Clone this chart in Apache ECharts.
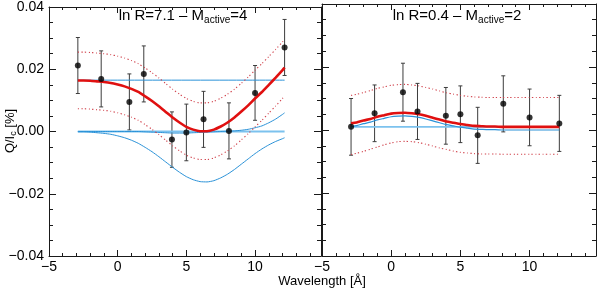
<!DOCTYPE html>
<html><head><meta charset="utf-8">
<script src="https://cdn.jsdelivr.net/npm/echarts@6/dist/echarts.min.js"></script>
<style>html,body{margin:0;padding:0;background:#fff}#c{width:600px;height:293px}</style>
</head><body><div id="c"></div>
<script>
// ---- tick labels ----
const xTickValues = [-5, 0, 5, 10];
const xTickLabels = ['\u22125', '0', '5', '10'];
const yTickValues = [-0.04, -0.02, 0, 0.02, 0.04];
const yTickLabels = ['\u22120.04', '\u22120.02', '0.00', '0.02', '0.04'];

// ---- observed points (both panels share wavelengths) ----
const obsX = [-2.9, -1.2, 0.85, 1.9, 3.95, 5.0, 6.25, 8.1, 10.0, 12.15];
const leftObsY = [0.0212, 0.0169, 0.0095, 0.0185, -0.0026, -0.0003, 0.0039, 0.0002, 0.0124, 0.0270];
const leftObsErr = [0.009, 0.009, 0.009, 0.009, 0.0089, 0.0091, 0.009, 0.009, 0.0088, 0.009];
const rightObsY = [0.0010, 0.0053, 0.0120, 0.0059, 0.0045, 0.0050, -0.0017, 0.0083, 0.0040, 0.0021];
const rightObsErr = [0.009, 0.009, 0.0092, 0.0089, 0.009, 0.009, 0.0089, 0.0089, 0.009, 0.0089];

// ---- model curves sampled at these wavelengths ----
const modelX = [-2.9, -2.5, -2, -1.5, -1, -0.5, 0, 0.5, 1, 1.5, 2, 2.5, 3, 3.5, 4, 4.5, 5, 5.5, 6, 6.5, 7, 7.5, 8, 8.5, 9, 9.5, 10, 10.5, 11, 11.5, 12, 12.15];

// left panel (ln R = 7.1)
const leftConstLevel = 0.0165;
const leftZeroLevel = 0;
const leftDip = [-0.0001, -0.0001, -0.0002, -0.0004, -0.0006, -0.0009, -0.0014, -0.0020, -0.0028, -0.0038, -0.0051, -0.0065, -0.0081, -0.0098, -0.0115, -0.0131, -0.0145, -0.0155, -0.0161, -0.0162, -0.0158, -0.0149, -0.0137, -0.0122, -0.0105, -0.0088, -0.0071, -0.0056, -0.0043, -0.0032, -0.0023, -0.0020];
const leftRise = [0, 0, 0, 0, 0, 0, 0, 0, 0, 0, -0.0001, -0.0002, -0.0003, -0.0004, -0.0005, -0.0005, -0.0005, -0.0004, -0.0003, -0.0002, -0.0001, 0, 0.0001, 0.0002, 0.0004, 0.0007, 0.0012, 0.0018, 0.0028, 0.0040, 0.0055, 0.0060];
const leftFit = [0.0164, 0.0164, 0.0163, 0.0161, 0.0159, 0.0156, 0.0151, 0.0145, 0.0137, 0.0127, 0.0113, 0.0098, 0.0081, 0.0063, 0.0045, 0.0029, 0.0015, 0.0006, 0.0001, 0.0001, 0.0006, 0.0016, 0.0029, 0.0045, 0.0064, 0.0084, 0.0106, 0.0127, 0.0150, 0.0173, 0.0197, 0.0205];
const leftUpper = [0.0255, 0.0255, 0.0254, 0.0252, 0.0250, 0.0247, 0.0242, 0.0236, 0.0228, 0.0218, 0.0204, 0.0189, 0.0172, 0.0154, 0.0136, 0.0120, 0.0106, 0.0097, 0.0092, 0.0092, 0.0097, 0.0107, 0.0120, 0.0136, 0.0155, 0.0175, 0.0197, 0.0218, 0.0241, 0.0264, 0.0288, 0.0296];
const leftLower = [0.0073, 0.0073, 0.0072, 0.0070, 0.0068, 0.0065, 0.0060, 0.0054, 0.0046, 0.0036, 0.0022, 0.0007, -0.0010, -0.0028, -0.0046, -0.0062, -0.0076, -0.0085, -0.0090, -0.0090, -0.0085, -0.0075, -0.0062, -0.0046, -0.0027, -0.0007, 0.0015, 0.0036, 0.0059, 0.0082, 0.0106, 0.0114];

// right panel (ln R = 0.4)
const rightConstLevel = 0.001;
const rightBump = [0.0011, 0.0014, 0.0020, 0.0025, 0.0032, 0.0037, 0.0042, 0.0044, 0.0045, 0.0043, 0.0040, 0.0035, 0.0029, 0.0023, 0.0017, 0.0013, 0.0009, 0.0006, 0.0003, 0.0002, 0.0001, 0.0001, 0, 0, 0, 0, 0, 0, 0, 0, 0, 0];
const rightFit = [0.0021, 0.0024, 0.0030, 0.0035, 0.0042, 0.0047, 0.0052, 0.0054, 0.0055, 0.0053, 0.0050, 0.0045, 0.0039, 0.0033, 0.0027, 0.0023, 0.0019, 0.0016, 0.0013, 0.0012, 0.0011, 0.0011, 0.0010, 0.0010, 0.0010, 0.0010, 0.0010, 0.0010, 0.0010, 0.0010, 0.0010, 0.0010];
const rightUpper = [0.0110, 0.0113, 0.0119, 0.0125, 0.0132, 0.0137, 0.0142, 0.0144, 0.0145, 0.0143, 0.0140, 0.0135, 0.0130, 0.0124, 0.0118, 0.0114, 0.0110, 0.0107, 0.0105, 0.0104, 0.0103, 0.0103, 0.0103, 0.0103, 0.0103, 0.0103, 0.0103, 0.0103, 0.0103, 0.0103, 0.0103, 0.0103];
const rightLower = [-0.0078, -0.0074, -0.0068, -0.0061, -0.0054, -0.0047, -0.0041, -0.0037, -0.0036, -0.0037, -0.0040, -0.0045, -0.0051, -0.0057, -0.0062, -0.0067, -0.0071, -0.0073, -0.0075, -0.0076, -0.0076, -0.0076, -0.0077, -0.0077, -0.0077, -0.0077, -0.0077, -0.0077, -0.0077, -0.0077, -0.0077, -0.0077];

// ---- styling ----
const FONT = 'Liberation Sans';
const AX = '#1a1a1a';
const RED = '#e01010';
const DOT = '#d0404a';
const BLUE = '#2a92d8';
const LBLUE = '#7cc2ee';
const XMIN = -5, XMAX = 14.8, YMIN = -0.04, YMAX = 0.04;

function fmtX(v) { const i = xTickValues.findIndex(t => Math.abs(t - v) < 1e-9); return i >= 0 ? xTickLabels[i] : ''; }
function fmtY(v) { const i = yTickValues.findIndex(t => Math.abs(t - v) < 1e-9); return i >= 0 ? yTickLabels[i] : ''; }

function xAxis(grid, pos, labels) {
  return {
    type: 'value', gridIndex: grid, position: pos, min: XMIN, max: XMAX, interval: 5,
    axisLine: { show: true, onZero: false, lineStyle: { color: AX, width: 1 } },
    axisTick: { show: true, inside: true, length: 6, lineStyle: { color: AX } },
    minorTick: { show: true, splitNumber: 5, length: 3, lineStyle: { color: AX } },
    splitLine: { show: false },
    axisLabel: { show: labels, formatter: fmtX, margin: 4, color: '#000', fontFamily: FONT, fontSize: 14, showMaxLabel: false }
  };
}
function yAxis(grid, pos, labels) {
  return {
    type: 'value', gridIndex: grid, position: pos, min: YMIN, max: YMAX, interval: 0.02,
    axisLine: { show: true, onZero: false, lineStyle: { color: AX, width: 1 } },
    axisTick: { show: true, inside: true, length: 7, lineStyle: { color: AX } },
    minorTick: { show: true, splitNumber: 4, length: 4, lineStyle: { color: AX } },
    splitLine: { show: false },
    axisLabel: { show: labels, formatter: fmtY, margin: 5, color: '#000', fontFamily: FONT, fontSize: 14 }
  };
}

function pairs(arr) { return modelX.map((x, i) => [x, arr[i]]); }
function level(v) { return [[modelX[0], v], [modelX[modelX.length - 1], v]]; }
function line(xi, yi, data, color, width, type, z) {
  return { type: 'line', xAxisIndex: xi, yAxisIndex: yi, data: data, showSymbol: false, symbol: 'none', smooth: 0.2,
    lineStyle: { color: color, width: width, type: type || 'solid' }, z: z || 2, silent: true };
}
function errBars(xi, yi, ys, errs) {
  return {
    type: 'custom', xAxisIndex: xi, yAxisIndex: yi, z: 1, silent: true,
    data: obsX.map((x, i) => [x, ys[i], errs[i]]),
    encode: { x: 0, y: 1 },
    renderItem: function (params, api) {
      const x = api.value(0), y = api.value(1), e = api.value(2);
      const t = api.coord([x, y + e]), b = api.coord([x, y - e]);
      const c = 2;
      const st = { stroke: '#3c3c3c', lineWidth: 1 };
      return { type: 'group', children: [
        { type: 'line', shape: { x1: t[0], y1: t[1], x2: b[0], y2: b[1] }, style: st },
        { type: 'line', shape: { x1: t[0] - c, y1: t[1], x2: t[0] + c, y2: t[1] }, style: st },
        { type: 'line', shape: { x1: b[0] - c, y1: b[1], x2: b[0] + c, y2: b[1] }, style: st }
      ] };
    }
  };
}
function points(xi, yi, ys) {
  return { type: 'scatter', xAxisIndex: xi, yAxisIndex: yi, data: obsX.map((x, i) => [x, ys[i]]),
    symbol: 'circle', symbolSize: 6, itemStyle: { color: '#000' }, z: 5, silent: true };
}

const rich = (size, sub) => ({
  m: { fontSize: size, fontFamily: FONT, fill: '#000', color: '#000', lineHeight: size + 4 },
  s: { fontSize: sub, fontFamily: FONT, fill: '#000', color: '#000', lineHeight: sub, verticalAlign: 'bottom' }
});

const option = {
  animation: false,
  backgroundColor: '#fff',
  grid: [
    { left: 49, right: 279, top: 4, bottom: 37 },
    { left: 322, right: 4, top: 4, bottom: 37 }
  ],
  xAxis: [xAxis(0, 'bottom', true), xAxis(0, 'top', false), xAxis(1, 'bottom', true), xAxis(1, 'top', false)],
  yAxis: [yAxis(0, 'left', true), yAxis(0, 'right', false), yAxis(1, 'left', false), yAxis(1, 'right', false)],
  series: [
    // left
    errBars(0, 0, leftObsY, leftObsErr),
    line(0, 0, level(leftZeroLevel), LBLUE, 2.2),
    line(0, 0, level(leftConstLevel), BLUE, 1),
    line(0, 0, pairs(leftRise), BLUE, 1),
    line(0, 0, pairs(leftDip), BLUE, 1),
    line(0, 0, pairs(leftUpper), DOT, 1.1, [1.2, 2.4]),
    line(0, 0, pairs(leftLower), DOT, 1.1, [1.2, 2.4]),
    line(0, 0, pairs(leftFit), RED, 2.6, 'solid', 3),
    points(0, 0, leftObsY),
    // right
    errBars(2, 2, rightObsY, rightObsErr),
    line(2, 2, level(rightConstLevel), LBLUE, 1.6),
    line(2, 2, pairs(rightBump), BLUE, 1.2),
    line(2, 2, pairs(rightUpper), DOT, 1.1, [1.2, 2.4]),
    line(2, 2, pairs(rightLower), DOT, 1.1, [1.2, 2.4]),
    line(2, 2, pairs(rightFit), RED, 2.6, 'solid', 3),
    points(2, 2, rightObsY)
  ],
  graphic: [
    { type: 'text', x: 183, y: 16, z: 10, style: { text: '{m|ln R=7.1 \u2013 M}{s|active}{m|=4}', rich: rich(15, 10), align: 'center', verticalAlign: 'middle' } },
    { type: 'text', x: 457, y: 16, z: 10, style: { text: '{m|ln R=0.4 \u2013 M}{s|active}{m|=2}', rich: rich(15, 10), align: 'center', verticalAlign: 'middle' } },
    { type: 'text', x: 10, y: 131, rotation: Math.PI / 2, z: 10, style: { text: '{m|Q/I}{s|c}{m| [%]}', rich: rich(13, 9), align: 'center', verticalAlign: 'middle' } },
    { type: 'text', x: 322, y: 281, z: 10, style: { text: 'Wavelength [\u00c5]', font: '13px "Liberation Sans"', fill: '#000', align: 'center', verticalAlign: 'middle' } }
  ]
};
const chart = echarts.init(document.getElementById('c'));
chart.setOption(option);
</script>
</body></html>
